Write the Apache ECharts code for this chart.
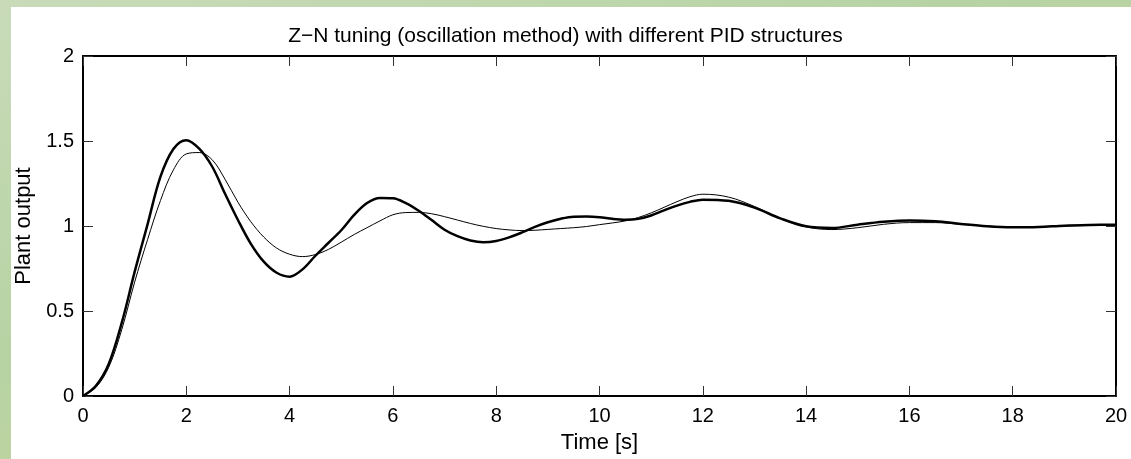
<!DOCTYPE html>
<html>
<head>
<meta charset="utf-8">
<script src="https://cdn.jsdelivr.net/npm/echarts@6/dist/echarts.min.js"></script>
<style>
html,body{margin:0;padding:0;width:1131px;height:459px;overflow:hidden;
  background:linear-gradient(160deg,#c9dbb9 0%,#b7d3a4 40%,#c2d39c 70%,#b5d9ad 100%);}
#panel{position:absolute;left:11px;top:7px;width:1120px;height:452px;background:#fff;}
#chart{position:absolute;left:0;top:0;width:1131px;height:459px;}
</style>
</head>
<body>
<div id="panel"></div>
<div id="chart"></div>
<script>
// time samples [s]
const time = [0,0.25,0.5,0.75,1,1.25,1.5,1.75,2,2.25,2.5,2.75,3,3.25,3.5,3.75,4,4.25,4.5,4.75,5,5.25,5.5,5.75,6,6.25,6.5,6.75,7,7.25,7.5,7.75,8,8.25,8.5,8.75,9,9.25,9.5,9.75,10,10.25,10.5,10.75,11,11.25,11.5,11.75,12,12.5,13,13.5,14,14.5,15,15.5,16,16.5,17,17.5,18,18.5,19,19.5,20];
// thick curve
const thickOut = [0,0.06,0.19,0.43,0.73,1.01,1.29,1.453,1.505,1.455,1.35,1.19,1.035,0.895,0.79,0.725,0.702,0.745,0.825,0.90,0.975,1.065,1.135,1.165,1.163,1.135,1.09,1.035,0.978,0.94,0.915,0.905,0.912,0.933,0.962,0.995,1.022,1.043,1.055,1.056,1.052,1.042,1.037,1.042,1.062,1.092,1.12,1.142,1.155,1.148,1.108,1.045,0.998,0.988,1.008,1.025,1.033,1.028,1.012,0.998,0.992,0.994,1.002,1.006,1.008];
// thin curve
const thinOut = [0,0.05,0.17,0.39,0.67,0.92,1.15,1.33,1.424,1.432,1.39,1.275,1.14,1.025,0.935,0.87,0.834,0.82,0.832,0.862,0.905,0.95,0.99,1.03,1.066,1.079,1.08,1.072,1.055,1.035,1.015,0.998,0.985,0.977,0.973,0.975,0.98,0.985,0.99,0.997,1.008,1.018,1.03,1.05,1.077,1.11,1.143,1.172,1.187,1.17,1.115,1.045,0.995,0.979,0.99,1.01,1.02,1.02,1.01,1.0,0.994,0.995,1.0,1.004,1.006];
const xTicks = {min:0, max:20, interval:2};
const yTicks = {min:0, max:2, interval:0.5};
const titleText = 'Z\u2212N tuning (oscillation method) with different PID structures';
const xName = 'Time [s]';
const yName = 'Plant output';

const FONT = '"Liberation Sans", Arial, Helvetica, sans-serif';
const chart = echarts.init(document.getElementById('chart'), null, {renderer:'canvas'});
const axisLine = {show:true, onZero:false, lineStyle:{color:'#000', width:2}};
const axisTick = {show:true, inside:true, length:10, lineStyle:{color:'#333', width:1}};
const lab = {color:'#000', fontSize:20, fontFamily:FONT};
const nameStyle = {color:'#000', fontSize:22, fontFamily:FONT};
chart.setOption({
  animation:false,
  backgroundColor:'transparent',
  title:{text:titleText, left:'center', top:21, textStyle:{color:'#000', fontSize:21, fontWeight:'normal', fontFamily:FONT}},
  grid:{left:83, right:15, top:56, bottom:59, containLabel:false},
  xAxis:[
    {type:'value', position:'bottom', min:xTicks.min, max:xTicks.max, interval:xTicks.interval,
     axisLine:axisLine, axisTick:axisTick, splitLine:{show:false},
     axisLabel:Object.assign({margin:10}, lab),
     name:xName, nameLocation:'middle', nameGap:36, nameTextStyle:nameStyle},
    {type:'value', position:'top', min:xTicks.min, max:xTicks.max, interval:xTicks.interval,
     axisLine:axisLine, axisTick:axisTick, splitLine:{show:false}, axisLabel:{show:false}}
  ],
  yAxis:[
    {type:'value', position:'left', min:yTicks.min, max:yTicks.max, interval:yTicks.interval,
     axisLine:axisLine, axisTick:axisTick, splitLine:{show:false},
     axisLabel:Object.assign({margin:9}, lab),
     name:yName, nameLocation:'middle', nameGap:47, nameRotate:90, nameTextStyle:nameStyle},
    {type:'value', position:'right', min:yTicks.min, max:yTicks.max, interval:yTicks.interval,
     axisLine:axisLine, axisTick:axisTick, splitLine:{show:false}, axisLabel:{show:false}}
  ],
  series:[
    {type:'line', name:'thin', data:time.map((t,i)=>[t,thinOut[i]]), smooth:0.35, showSymbol:false,
     lineStyle:{color:'#000', width:1}},
    {type:'line', name:'thick', data:time.map((t,i)=>[t,thickOut[i]]), smooth:0.35, showSymbol:false,
     lineStyle:{color:'#000', width:2.5}}
  ]
});
</script>
</body>
</html>
